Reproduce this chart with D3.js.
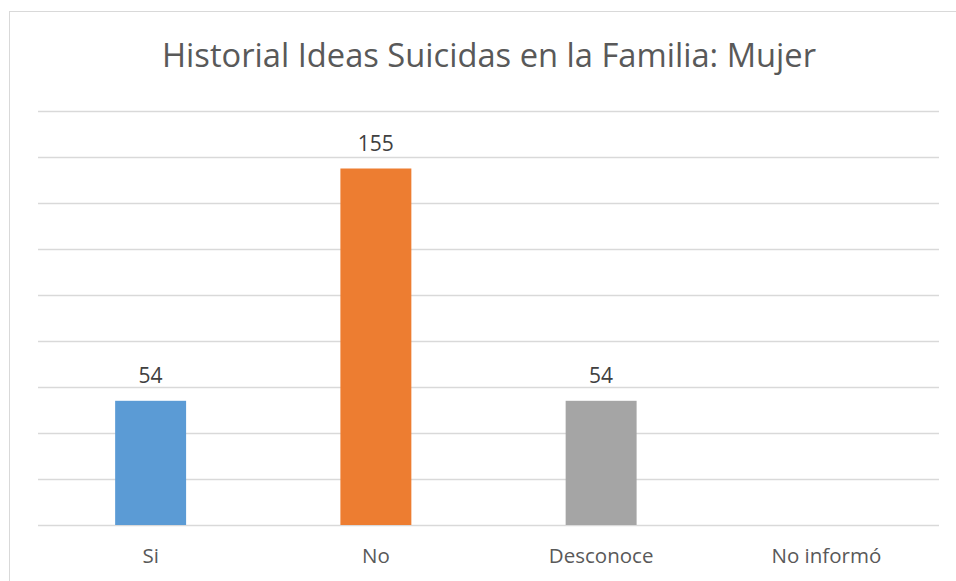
<!DOCTYPE html>
<html><head><meta charset="utf-8">
<script src="https://cdn.jsdelivr.net/npm/d3@7"></script>
<style>body{margin:0;background:#fff}svg{display:block}</style>
</head><body>
<svg id="c" width="956" height="581"></svg>
<script>
const categories = ["Si", "No", "Desconoce", "No informó"];
const values = [54, 155, 54, null];
const colors = ["#5B9BD5", "#ED7D31", "#A5A5A5", "#FFC000"];
const yTicks = [0, 20, 40, 60, 80, 100, 120, 140, 160, 180];
const title = "Historial Ideas Suicidas en la Familia: Mujer";

const svg = d3.select("#c");
const font = "'Open Sans', 'Noto Sans', sans-serif";
const m = {left: 38, right: 939, top: 111, bottom: 525};

svg.append("rect").attr("x", 9.5).attr("y", 11.5).attr("width", 960).attr("height", 600)
  .attr("fill", "#fff").attr("stroke", "#d9d9d9").attr("stroke-width", 1);

const x = d3.scaleBand().domain(categories).range([m.left, m.right]).padding(0);
const y = d3.scaleLinear().domain([0, 180]).range([m.bottom, m.top]);

const grid = svg.append("g").attr("transform", `translate(${m.left},0)`)
  .call(d3.axisLeft(y).tickValues(yTicks).tickSize(-(m.right - m.left)).tickFormat(""));
grid.select(".domain").remove();
grid.selectAll(".tick line").attr("stroke", "#d9d9d9").attr("stroke-width", 1.3);

const bw = x.bandwidth() * 0.315;
const data = categories.map((c, i) => ({c, v: values[i], col: colors[i]}));
const bars = data.filter(d => d.v != null);
svg.selectAll("rect.bar").data(bars).join("rect").attr("class", "bar")
  .attr("x", d => x(d.c) + x.bandwidth() / 2 - bw / 2)
  .attr("width", bw)
  .attr("y", d => y(d.v))
  .attr("height", d => y(0) - y(d.v))
  .attr("fill", d => d.col);

svg.selectAll("text.val").data(bars).join("text").attr("class", "val")
  .attr("x", d => x(d.c) + x.bandwidth() / 2)
  .attr("y", d => y(d.v) - 18)
  .attr("text-anchor", "middle")
  .attr("font-family", font).attr("font-size", 21).attr("fill", "#404040")
  .text(d => d.v);

const xa = svg.append("g").attr("transform", `translate(0,${m.bottom})`)
  .call(d3.axisBottom(x).tickSize(0).tickPadding(0));
xa.select(".domain").remove();
xa.selectAll("text").attr("y", 38).attr("dy", 0)
  .attr("font-family", font).attr("font-size", 20.5).attr("fill", "#595959");

svg.append("text").attr("x", 489).attr("y", 67).attr("text-anchor", "middle")
  .attr("font-family", font).attr("font-size", 32).attr("fill", "#595959")
  .attr("textLength", 654).attr("lengthAdjust", "spacingAndGlyphs")
  .text(title);
</script>
</body></html>
